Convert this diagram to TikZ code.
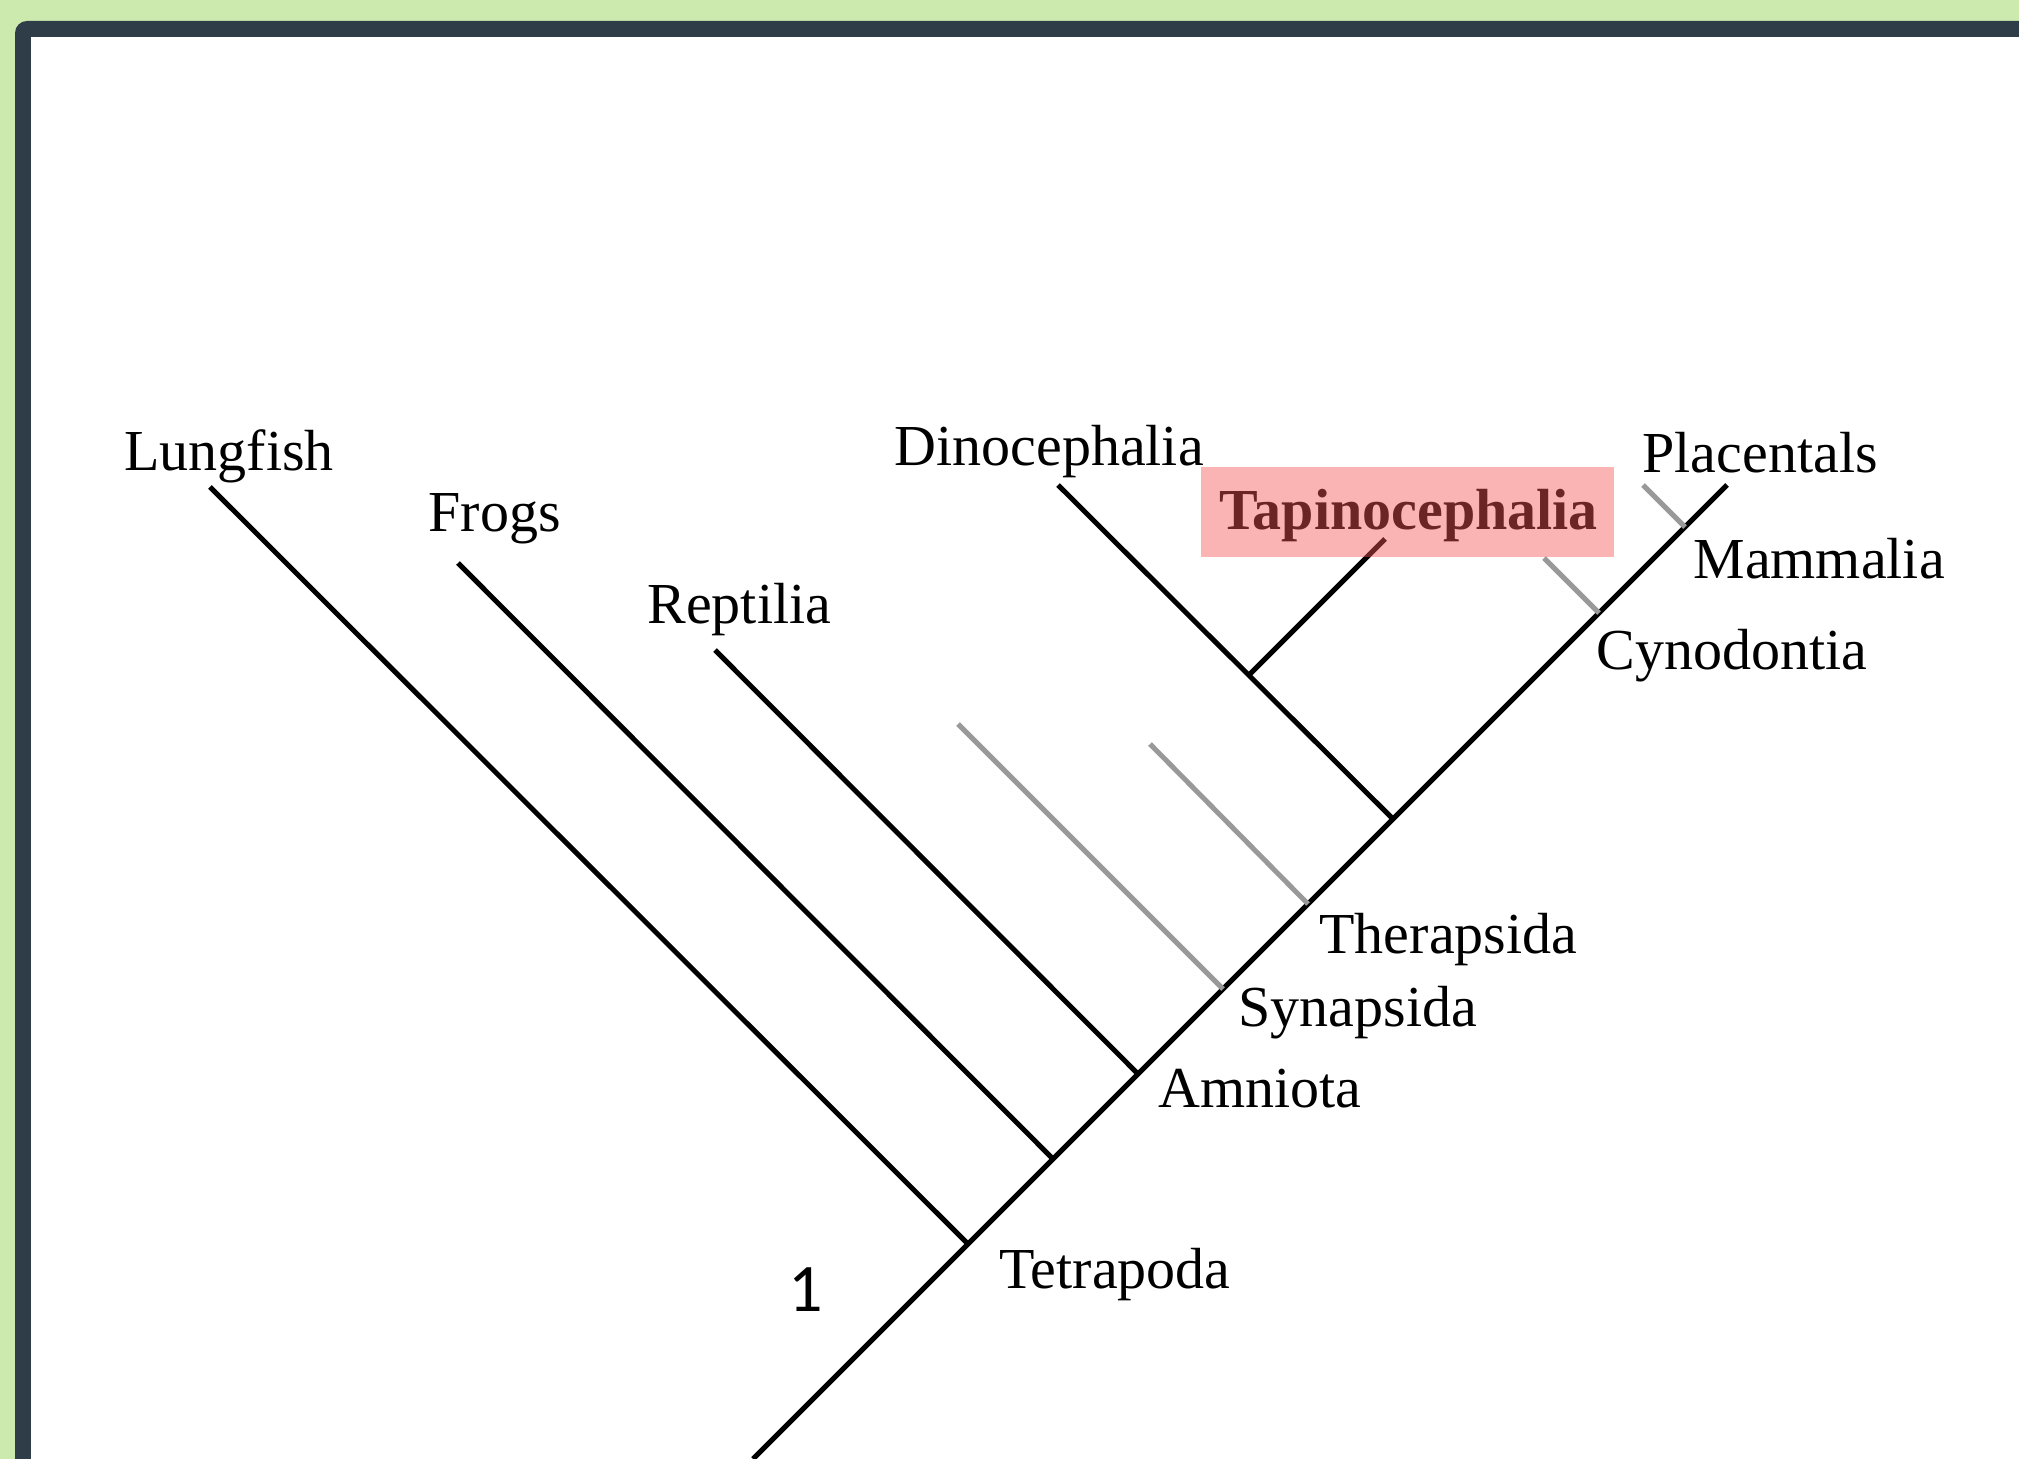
\documentclass[tikz,border=0pt]{standalone}
\usepackage{fontspec}
\setmainfont{Liberation Serif}
\newfontfamily\numfont{Carlito}
\definecolor{leaf}{RGB}{205,234,174}
\definecolor{slate}{RGB}{46,61,72}
\definecolor{extinct}{RGB}{153,153,153}
\definecolor{flag}{RGB}{248,86,86}

\begin{document}
\begin{tikzpicture}[x=0.5pt,y=-0.5pt,line width=2.5pt,
  clade/.style={draw=black},
  ghost/.style={draw=extinct},
  taxon/.style={anchor=base west,inner sep=0pt,font=\fontsize{29}{34}\selectfont}]

  \useasboundingbox (0,0) rectangle (2019,1459);
  \fill[leaf] (0,0) rectangle (2019,1459);
  \fill[slate,rounded corners=6] (15,21) rectangle (2100,1600);
  \fill[white] (31,37) rectangle (2100,1600);

  % points on the trunk
  \coordinate (root) at (753,1459);
  \coordinate (tetra) at (968,1244);
  \coordinate (frog) at (1053,1159);
  \coordinate (amnio) at (1138,1074);
  \coordinate (syn) at (1223,989);
  \coordinate (thera) at (1308,904);
  \coordinate (dino) at (1393,819);
  \coordinate (cyno) at (1599,613);
  \coordinate (mamm) at (1685,527);
  \coordinate (top) at (1727,485);
  \coordinate (tapi) at (1249,675);

  % tips
  \coordinate (lungfish tip) at (210,487);
  \coordinate (frogs tip) at (458,563);
  \coordinate (reptilia tip) at (715,650);
  \coordinate (syn tip) at (958,724);
  \coordinate (thera tip) at (1150,744);
  \coordinate (dino tip) at (1058,485);
  \coordinate (tapi tip) at (1385,539);
  \coordinate (cyno tip) at (1544,558);
  \coordinate (mamm tip) at (1643,485);

  \draw[clade] (root) -- (top);
  \draw[clade] (tetra) -- (lungfish tip);
  \draw[clade] (frog) -- (frogs tip);
  \draw[clade] (amnio) -- (reptilia tip);
  \draw[ghost] (syn) -- (syn tip);
  \draw[ghost] (thera) -- (thera tip);
  \draw[clade] (dino) -- (dino tip);
  \draw[clade] (tapi) -- (tapi tip);
  \draw[ghost] (cyno) -- (cyno tip);
  \draw[ghost] (mamm) -- (mamm tip);

  \node[taxon] (lungfish) at (122,471) {Lungfish};
  \node[taxon] (frogs) at (426,532) {Frogs};
  \node[taxon] (reptilia) at (645,624) {Reptilia};
  \node[taxon] (dinocephalia) at (892,466) {Dinocephalia};
  \node[taxon,font=\fontsize{29}{34}\selectfont\bfseries] (tapinocephalia) at (1217,530) {Tapinocephalia};
  \node[taxon] (placentals) at (1640,473) {Placentals};
  \node[taxon] (mammalia) at (1691,579) {Mammalia};
  \node[taxon] (cynodontia) at (1594,670) {Cynodontia};
  \node[taxon] (therapsida) at (1317,953) {Therapsida};
  \node[taxon] (synapsida) at (1236,1026) {Synapsida};
  \node[taxon] (amniota) at (1156,1107) {Amniota};
  \node[taxon] (tetrapoda) at (997,1288) {Tetrapoda};
  \node[inner sep=0pt,font=\numfont\fontsize{34}{38}\selectfont] (one) at (806,1290) {1};

  \fill[flag,fill opacity=0.44] (1201,467) rectangle (1614,557);

\end{tikzpicture}
\end{document}
